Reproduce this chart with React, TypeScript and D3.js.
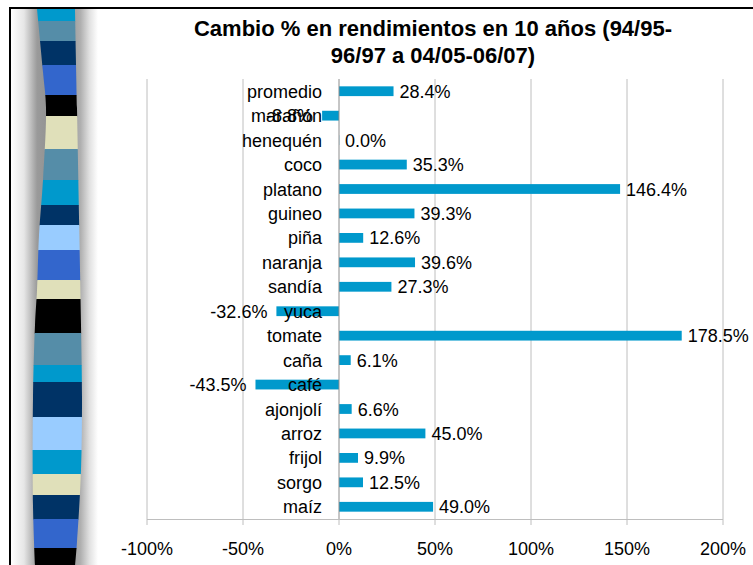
import React from "react";
import * as d3 from "d3";

// chart data
const categories = ["promedio", "marañón", "henequén", "coco", "platano", "guineo", "piña", "naranja", "sandía", "yuca", "tomate", "caña", "café", "ajonjolí", "arroz", "frijol", "sorgo", "maíz"];
const changes = [28.4, -8.8, 0.0, 35.3, 146.4, 39.3, 12.6, 39.6, 27.3, -32.6, 178.5, 6.1, -43.5, 6.6, 45.0, 9.9, 12.5, 49.0];
const xTicks = [-100, -50, 0, 50, 100, 150, 200];
const titleLines = ["Cambio % en rendimientos en 10 años (94/95-", "96/97 a 04/05-06/07)"];

// decorative slide strip
const stripeEdges = [9, 21, 41, 65, 95, 116, 149, 180, 205, 225, 250, 280, 299, 333, 365, 382, 417, 450, 474, 495, 519, 548, 566];
const stripeColors = ["#0099CC", "#558DA8", "#003366", "#3366CC", "#000000", "#E0E0BA", "#558DA8", "#0099CC", "#003366", "#99CCFF", "#3366CC", "#E0E0BA", "#000000", "#558DA8", "#0099CC", "#003366", "#99CCFF", "#0099CC", "#E0E0BA", "#003366", "#3366CC", "#000000"];

const W = 753, H = 565;
const font = "'Liberation Sans', Arial, sans-serif";
const fs = 18;

export default function App() {
  const x = d3.scaleLinear().domain([-100, 200]).range([147, 723]);
  const y = d3.scaleBand<string>().domain(categories).range([79, 519]).paddingInner(0.6).paddingOuter(0.3);
  const bh = y.bandwidth();
  const x0 = x(0);

  // wavy edges of the strip
  const leftEdge: [number, number][] = [[37, 9], [43, 72], [46, 108], [43, 180], [39, 235], [37, 290], [35, 325], [33, 398], [33, 506], [35, 566]];
  const rightEdge: [number, number][] = [[75, 9], [77, 108], [79, 217], [81, 325], [82, 398], [81, 470], [77, 542], [75, 566]];
  const line = d3.line().curve(d3.curveCatmullRom);
  const stripPath = line(leftEdge)! + "L" + line([...rightEdge].reverse())!.slice(1) + "Z";

  return (
    <svg width={W} height={H} style={{ position: "absolute", left: 0, top: 0, background: "#fff" }}>
      <defs>
        <linearGradient id="shade" x1="11" x2="98" y1="0" y2="0" gradientUnits="userSpaceOnUse">
          <stop offset="0" stopColor="#ffffff" />
          <stop offset="0.15" stopColor="#e6e6e6" />
          <stop offset="0.3" stopColor="#9a9a9a" />
          <stop offset="0.6" stopColor="#888888" />
          <stop offset="0.8" stopColor="#b0b0b0" />
          <stop offset="0.9" stopColor="#e0e0e0" />
          <stop offset="1" stopColor="#ffffff" />
        </linearGradient>
        <clipPath id="strip">
          <path d={stripPath} />
        </clipPath>
      </defs>

      {/* frame */}
      <rect x={11} y={9} width={W} height={H} fill="#fff" />
      <rect x={11} y={9} width={88} height={H} fill="url(#shade)" />
      <g clipPath="url(#strip)">
        {stripeColors.map((c, i) => (
          <rect key={i} x={25} y={stripeEdges[i]} width={70} height={stripeEdges[i + 1] - stripeEdges[i] + 0.5} fill={c} />
        ))}
      </g>
      <line x1={9} x2={W} y1={8} y2={8} stroke="#000" strokeWidth={2} />
      <line x1={10} x2={10} y1={8} y2={H} stroke="#000" strokeWidth={2} />

      {/* title */}
      {titleLines.map((t, i) => (
        <text key={i} x={433} y={36 + i * 27} textAnchor="middle" fontFamily={font} fontWeight="bold" fontSize={22} fill="#000">{t}</text>
      ))}

      {/* gridlines */}
      {xTicks.filter(t => t !== 0).map(t => (
        <line key={t} x1={x(t)} x2={x(t)} y1={79} y2={519} stroke="#BEBEBE" strokeWidth={1} />
      ))}
      {/* bottom axis */}
      <line x1={x(-100)} x2={x(200)} y1={519.5} y2={519.5} stroke="#BEBEBE" />
      {xTicks.map(t => (
        <line key={t} x1={x(t)} x2={x(t)} y1={519} y2={525} stroke="#BEBEBE" />
      ))}
      {xTicks.map(t => (
        <text key={t} x={x(t)} y={555} textAnchor="middle" fontFamily={font} fontSize={fs} fill="#000">{t + "%"}</text>
      ))}

      {/* bars */}
      {categories.map((c, i) => {
        const v = changes[i];
        return (
          <rect key={c} x={Math.min(x(v), x0)} y={y(c)!} width={Math.max(Math.abs(x(v) - x0), 1)} height={bh} fill={v === 0 ? "#cfe9f3" : "#0099CC"} />
        );
      })}
      {/* category axis */}
      <line x1={x0} x2={x0} y1={79} y2={519} stroke="#8C8C8C" />

      {/* category labels */}
      {categories.map(c => (
        <text key={c} x={322} y={y(c)! + bh / 2 + 6.5} textAnchor="end" fontFamily={font} fontSize={fs} fill="#000">{c}</text>
      ))}
      {/* value labels */}
      {categories.map((c, i) => {
        const v = changes[i];
        const neg = v < 0;
        return (
          <text key={c} x={neg ? x(v) - 9 : x(v) + 6} y={y(c)! + bh / 2 + 6.5} textAnchor={neg ? "end" : "start"} fontFamily={font} fontSize={fs} fill="#000">{v.toFixed(1) + "%"}</text>
        );
      })}
    </svg>
  );
}
